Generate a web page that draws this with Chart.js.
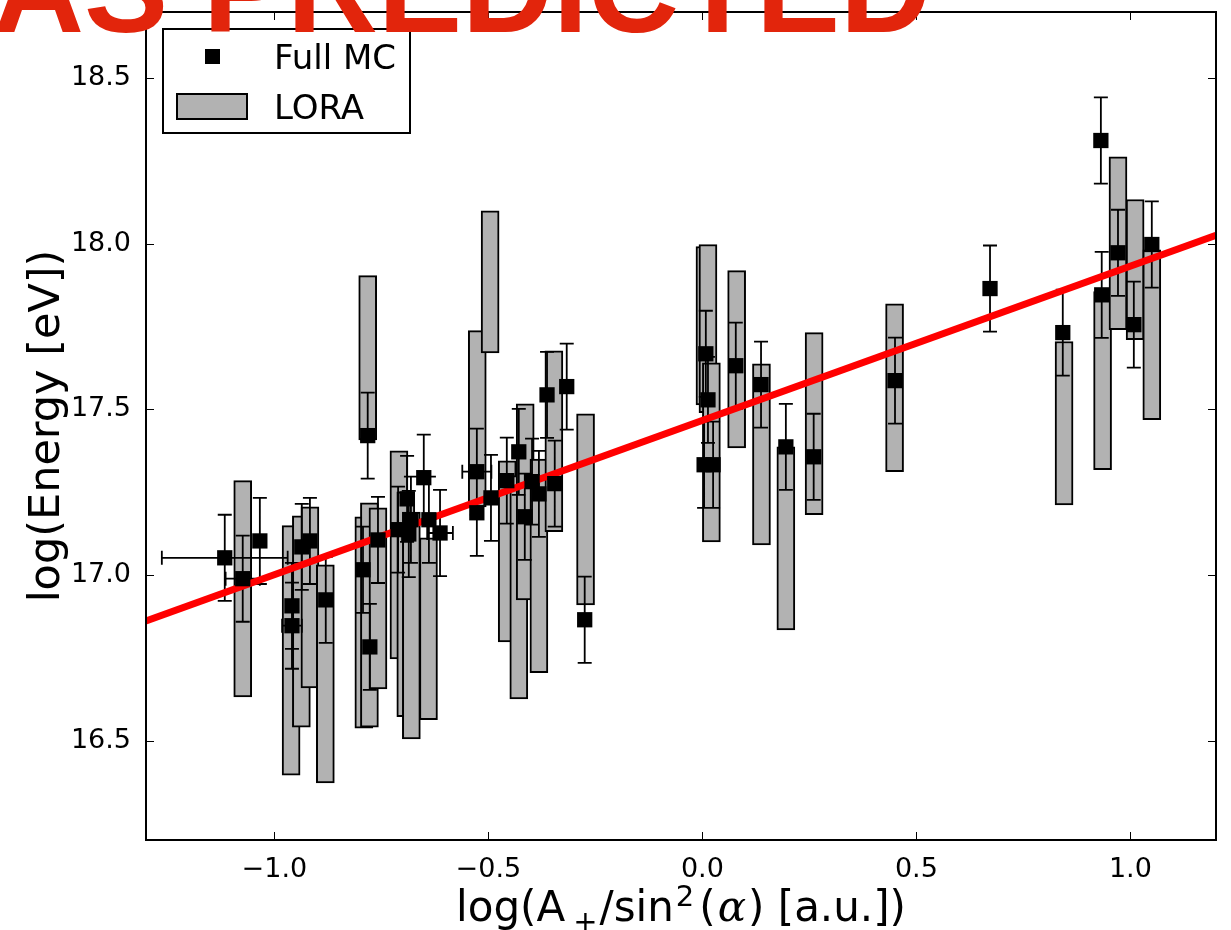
<!DOCTYPE html>
<html>
<head>
<meta charset="utf-8">
<script src="https://cdn.jsdelivr.net/npm/chart.js@4.4.1/dist/chart.umd.min.js"></script>
<style>
  html, body { margin: 0; padding: 0; background: #fff; }
  #wrap { width: 1231px; height: 930px; position: relative; }
</style>
</head>
<body>
<div id="wrap"><canvas id="chart"></canvas></div>
<script>
// Full MC reconstructed energies (log10 eV) against log(A+/sin^2(alpha))
const mcX = [-1.116, -1.074, -1.034, -0.959, -0.959, -0.936, -0.917, -0.880, -0.793, -0.777,
             -0.758, -0.782, -0.711, -0.690, -0.681, -0.686, -0.651, -0.639, -0.613, -0.527,
             -0.527, -0.494, -0.457, -0.429, -0.415, -0.398, -0.382, -0.345, -0.363, -0.317,
             -0.275, 0.008, 0.013, 0.004, 0.025, 0.078, 0.137, 0.195, 0.260, 0.450,
             0.672, 0.842, 0.931, 0.933, 0.971, 1.008, 1.050];
const mcY = [17.052, 16.989, 17.103, 16.907, 16.847, 17.085, 17.103, 16.925, 17.016, 16.783,
             17.106, 17.421, 17.137, 17.230, 17.167, 17.124, 17.294, 17.167, 17.127, 17.312,
             17.188, 17.233, 17.285, 17.372, 17.176, 17.282, 17.245, 17.276, 17.544, 17.569,
             16.865, 17.668, 17.529, 17.333, 17.333, 17.632, 17.575, 17.387, 17.357, 17.587,
             17.865, 17.732, 18.312, 17.846, 17.973, 17.756, 17.998];
const mcYErr = [0.13, 0.13, 0.13, 0.13, 0.13, 0.13, 0.13, 0.13, 0.13, 0.13,
                0.13, 0.13, 0.13, 0.13, 0.13, 0.13, 0.13, 0.13, 0.13, 0.13,
                0.13, 0.13, 0.13, 0.13, 0.13, 0.13, 0.13, 0.13, 0.13, 0.13,
                0.13, 0.13, 0.13, 0.13, 0.13, 0.13, 0.13, 0.13, 0.13, 0.13,
                0.13, 0.13, 0.13, 0.13, 0.13, 0.13, 0.13];
const mcXErr = [0.147, 0.04, 0, 0, 0.023, 0, 0, 0, 0, 0,
                0, 0, 0, 0, 0, 0, 0, 0, 0.03, 0.034,
                0, 0, 0, 0, 0, 0, 0, 0, 0, 0,
                0, 0, 0, 0, 0, 0, 0, 0, 0, 0,
                0, 0, 0, 0, 0, 0, 0];

// LORA energy ranges (floating boxes)
const loraX = [-1.074, -0.961, -0.937, -0.917, -0.881, -0.791, -0.782, -0.778, -0.758, -0.709,
               -0.693, -0.680, -0.640, -0.526, -0.496, -0.456, -0.429, -0.414, -0.382, -0.347,
               -0.273, 0.006, 0.013, 0.021, 0.080, 0.138, 0.195, 0.261, 0.449, 0.845,
               0.935, 0.971, 1.011, 1.050];
const loraLow = [16.632, 16.396, 16.541, 16.659, 16.372, 16.538, 17.408, 16.541, 16.656, 16.747,
                 16.572, 16.505, 16.563, 17.206, 17.671, 16.798, 16.626, 16.925, 16.705, 17.131,
                 16.910, 17.514, 17.490, 17.100, 17.384, 17.091, 16.834, 17.182, 17.312, 17.212,
                 17.318, 17.741, 17.711, 17.469];
const loraHigh = [17.285, 17.149, 17.179, 17.206, 17.031, 17.176, 17.904, 17.218, 17.203, 17.375,
                  17.251, 17.190, 17.112, 17.738, 18.100, 17.345, 17.300, 17.517, 17.350, 17.677,
                  17.487, 17.992, 17.998, 17.641, 17.919, 17.638, 17.387, 17.732, 17.819, 17.705,
                  17.856, 18.263, 18.134, 17.982];

// calibration fit, end points
const fitX = [-1.3, 1.2];
const fitY = [16.861, 18.026];

const xTicks = [-1.0, -0.5, 0.0, 0.5, 1.0];
const yTicks = [16.5, 17.0, 17.5, 18.0, 18.5];

const GREY = '#b2b2b2';
const fmt = v => (v < 0 ? '\u2212' : '') + Math.abs(v).toFixed(1);

Chart.defaults.font.family = '"DejaVu Sans"';

// error bars go right after the boxes, under the fit line and markers
const errorBars = {
  id: 'errorBars',
  afterDatasetDraw(chart, args) {
    if (args.index !== 0) return;
    const { ctx, chartArea: a, scales: { x, y } } = chart;
    const cap = 7;
    ctx.save();
    ctx.beginPath();
    ctx.rect(a.left, a.top, a.right - a.left, a.bottom - a.top);
    ctx.clip();
    ctx.strokeStyle = '#000';
    ctx.lineWidth = 1.8;
    ctx.beginPath();
    mcX.forEach((vx, i) => {
      const px = x.getPixelForValue(vx);
      const py = y.getPixelForValue(mcY[i]);
      const t = y.getPixelForValue(mcY[i] + mcYErr[i]);
      const b = y.getPixelForValue(mcY[i] - mcYErr[i]);
      ctx.moveTo(px, t); ctx.lineTo(px, b);
      ctx.moveTo(px - cap, t); ctx.lineTo(px + cap, t);
      ctx.moveTo(px - cap, b); ctx.lineTo(px + cap, b);
      if (mcXErr[i]) {
        const l = x.getPixelForValue(vx - mcXErr[i]);
        const r = x.getPixelForValue(vx + mcXErr[i]);
        ctx.moveTo(l, py); ctx.lineTo(r, py);
        ctx.moveTo(l, py - cap); ctx.lineTo(l, py + cap);
        ctx.moveTo(r, py - cap); ctx.lineTo(r, py + cap);
      }
    });
    ctx.stroke();
    ctx.restore();
  }
};

function drawXTitle(ctx, cx, base) {
  const main = '42px "DejaVu Sans"';
  const small = '29px "DejaVu Sans"';
  const greek = 'italic 42px "DejaVu Serif"';
  const parts = [
    { t: 'log(A', f: main, dy: 0, gap: 0 },
    { t: '+', f: small, dy: 10, gap: 8 },
    { t: '/sin', f: main, dy: 0, gap: 2 },
    { t: '2', f: small, dy: -15, gap: 2 },
    { t: '(', f: main, dy: 0, gap: 5 },
    { t: '\u03b1', f: greek, dy: 0, gap: 2 },
    { t: ') [a.u.])', f: main, dy: 0, gap: 2 }
  ];
  let total = 0;
  parts.forEach(p => { ctx.font = p.f; p.w = ctx.measureText(p.t).width; total += p.gap + p.w; });
  let x = cx - total / 2;
  ctx.textAlign = 'left';
  ctx.textBaseline = 'alphabetic';
  parts.forEach(p => {
    x += p.gap;
    ctx.font = p.f;
    ctx.fillText(p.t, x, base + p.dy);
    x += p.w;
  });
}

const decorations = {
  id: 'decorations',
  afterDraw(chart) {
    const { ctx, chartArea: a, scales: { x, y } } = chart;
    ctx.save();

    // axes frame with inward ticks on all four sides
    ctx.strokeStyle = '#000';
    ctx.lineWidth = 1;
    ctx.beginPath();
    xTicks.forEach(v => {
      const px = Math.round(x.getPixelForValue(v)) + 0.5;
      ctx.moveTo(px, a.bottom); ctx.lineTo(px, a.bottom - 8);
      ctx.moveTo(px, a.top); ctx.lineTo(px, a.top + 8);
    });
    yTicks.forEach(v => {
      const py = Math.round(y.getPixelForValue(v)) + 0.5;
      ctx.moveTo(a.left, py); ctx.lineTo(a.left + 8, py);
      ctx.moveTo(a.right, py); ctx.lineTo(a.right - 8, py);
    });
    ctx.stroke();
    ctx.lineWidth = 2;
    ctx.strokeRect(a.left, a.top, a.right - a.left, a.bottom - a.top);

    // legend
    const ds = chart.data.datasets;
    ctx.fillStyle = '#fff';
    ctx.fillRect(163, 29, 247, 104);
    ctx.strokeRect(163, 29, 247, 104);
    ctx.fillStyle = '#000';
    ctx.fillRect(205, 49, 15, 15);
    ctx.fillStyle = GREY;
    ctx.fillRect(177, 94, 70, 25);
    ctx.strokeRect(177, 94, 70, 25);
    ctx.fillStyle = '#000';
    ctx.font = '34px "DejaVu Sans"';
    ctx.textAlign = 'left';
    ctx.textBaseline = 'alphabetic';
    ctx.fillText(ds[2].label, 274, 69);
    ctx.fillText(ds[0].label, 274, 119);

    // axis titles
    drawXTitle(ctx, (a.left + a.right) / 2, 921);
    ctx.save();
    ctx.translate(59, (a.top + a.bottom) / 2);
    ctx.rotate(-Math.PI / 2);
    ctx.font = '43px "DejaVu Sans"';
    ctx.textAlign = 'center';
    ctx.fillText('log(Energy [eV])', 0, 0);
    ctx.restore();

    // stamp across the top
    ctx.fillStyle = '#e2250c';
    ctx.font = 'bold 126px "Liberation Sans"';
    ctx.textAlign = 'right';
    ctx.fillText('AS PREDICTED', 931, 32);
    ctx.restore();
  }
};

new Chart(document.getElementById('chart'), {
  type: 'scatter',
  data: {
    datasets: [
      {
        type: 'bar',
        label: 'LORA',
        data: loraX.map((x, i) => ({ x, y: [loraLow[i], loraHigh[i]] })),
        backgroundColor: GREY,
        borderColor: '#000',
        borderWidth: 2,
        borderSkipped: false,
        barThickness: 18,
        grouped: false,
        order: 3
      },
      {
        type: 'line',
        label: 'fit',
        data: fitX.map((x, i) => ({ x, y: fitY[i] })),
        borderColor: '#ff0000',
        borderWidth: 7,
        pointRadius: 0,
        fill: false,
        order: 2
      },
      {
        type: 'scatter',
        label: 'Full MC',
        data: mcX.map((x, i) => ({ x, y: mcY[i] })),
        pointStyle: 'rect',
        pointRadius: 10.8,
        backgroundColor: '#000',
        borderWidth: 0,
        order: 1
      }
    ]
  },
  options: {
    responsive: true,
    maintainAspectRatio: false,
    animation: false,
    devicePixelRatio: 1,
    layout: { padding: { top: 12, right: 15, left: 0, bottom: 0 } },
    plugins: { legend: { display: false }, tooltip: { enabled: false } },
    scales: {
      x: {
        type: 'linear', min: -1.3, max: 1.2, offset: false,
        grid: { display: false, offset: false },
        border: { display: false },
        ticks: { color: '#000', font: { size: 27 }, padding: 6, maxRotation: 0, callback: fmt },
        afterBuildTicks: s => { s.ticks = xTicks.map(v => ({ value: v })); },
        afterFit: s => { s.height = 90; s.paddingLeft = 0; s.paddingRight = 0; }
      },
      y: {
        type: 'linear', min: 16.2, max: 18.7, beginAtZero: false,
        grid: { display: false },
        border: { display: false },
        ticks: { color: '#000', font: { size: 27 }, padding: 7, callback: fmt },
        afterBuildTicks: s => { s.ticks = yTicks.map(v => ({ value: v })); },
        afterFit: s => { s.width = 146; s.paddingTop = 0; s.paddingBottom = 0; }
      }
    }
  },
  plugins: [errorBars, decorations]
});
</script>
</body>
</html>
